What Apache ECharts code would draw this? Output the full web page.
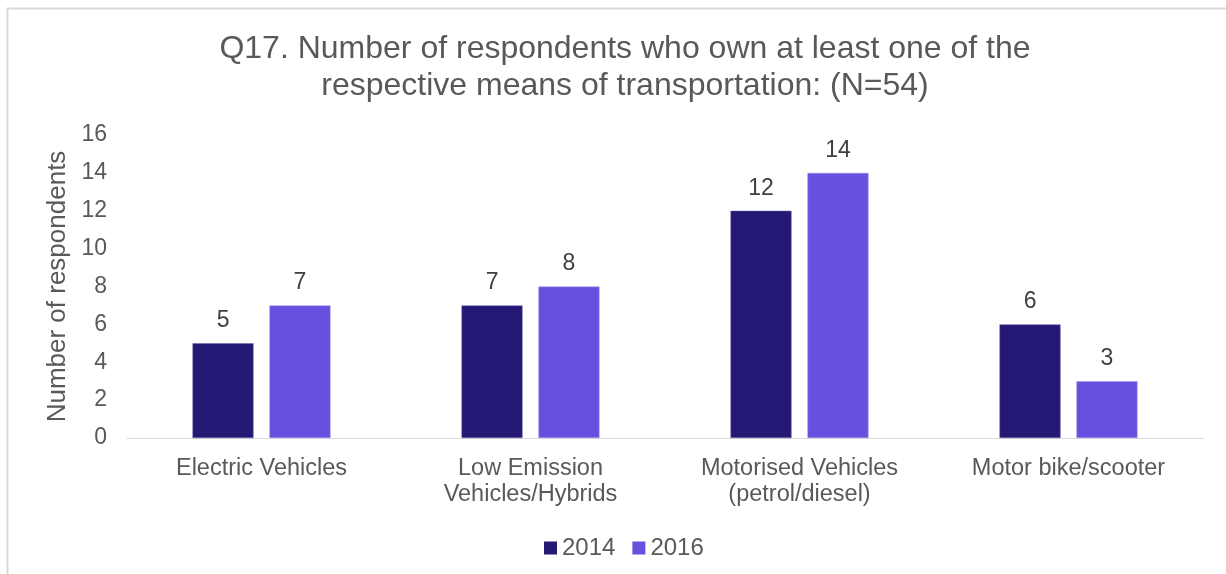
<!DOCTYPE html>
<html>
<head>
<meta charset="utf-8">
<script src="https://cdn.jsdelivr.net/npm/echarts@6/dist/echarts.min.js"></script>
<style>
  html, body { margin: 0; padding: 0; background: #fff; }
  #main { width: 1226px; height: 574px; }
</style>
</head>
<body>
<div id="main"></div>
<script>
var categories = ['Electric Vehicles', 'Low Emission\nVehicles/Hybrids', 'Motorised Vehicles\n(petrol/diesel)', 'Motor bike/scooter'];
var seriesNames = ['2014', '2016'];
var values2014 = [5, 7, 12, 6];
var values2016 = [7, 8, 14, 3];
var yTicks = [0, 16, 2]; // min, max, step

var myChart = echarts.init(document.getElementById('main'));
var font = 'Liberation Sans, Arial, sans-serif';

var option = {
    animation: false,
    textStyle: { fontFamily: font },
    graphic: [{
        type: 'rect',
        shape: { x: 7.5, y: 8.5, width: 1240, height: 600 },
        style: { fill: 'none', stroke: '#d9d9d9', lineWidth: 2 },
        silent: true
    }],
    title: {
        text: 'Q17. Number of respondents who own at least one of the\nrespective means of transportation: (N=54)',
        left: 620,
        textAlign: 'center',
        top: 26,
        textStyle: {
            color: '#595959',
            fontSize: 32,
            fontWeight: 'normal',
            lineHeight: 37,
            fontFamily: font
        }
    },
    legend: {
        data: seriesNames,
        top: 531,
        left: 539,
        icon: 'rect',
        itemWidth: 13,
        itemHeight: 13,
        itemGap: 17,
        itemStyle: { borderWidth: 0 },
        textStyle: { color: '#595959', fontSize: 24, fontFamily: font }
    },
    grid: {
        left: 127,
        right: 23,
        top: 135,
        bottom: 136
    },
    xAxis: {
        type: 'category',
        data: categories,
        axisLine: { lineStyle: { color: '#d9d9d9', width: 1 } },
        axisTick: { show: false },
        axisLabel: {
            color: '#595959',
            fontSize: 23.5,
            lineHeight: 26,
            margin: 18,
            interval: 0,
            fontFamily: font
        }
    },
    yAxis: {
        type: 'value',
        min: yTicks[0],
        max: yTicks[1],
        interval: yTicks[2],
        name: 'Number of respondents',
        nameLocation: 'middle',
        nameGap: 55,
        nameTextStyle: { color: '#595959', fontSize: 26, fontFamily: font },
        axisLine: { show: false },
        axisTick: { show: false },
        splitLine: { show: false },
        axisLabel: { color: '#595959', fontSize: 23, margin: 20, fontFamily: font }
    },
    series: [
        {
            name: seriesNames[0],
            type: 'bar',
            data: values2014,
            barWidth: '22.7%',
            barGap: '26%',
            itemStyle: { color: '#241875', borderColor: '#6e66b0', borderWidth: 0.5 },
            label: { show: true, position: 'top', distance: 11, color: '#404040', fontSize: 23, fontFamily: font }
        },
        {
            name: seriesNames[1],
            type: 'bar',
            data: values2016,
            barWidth: '22.7%',
            itemStyle: { color: '#6750dd', borderColor: '#a397ee', borderWidth: 0.5 },
            label: { show: true, position: 'top', distance: 11, color: '#404040', fontSize: 23, fontFamily: font }
        }
    ]
};
myChart.setOption(option);
</script>
</body>
</html>
